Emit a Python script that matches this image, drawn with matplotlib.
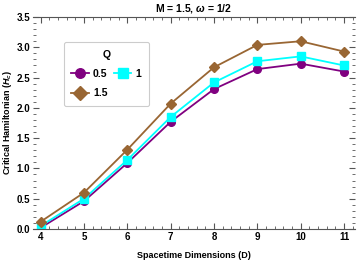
import matplotlib
matplotlib.use("Agg")
import matplotlib.pyplot as plt
from matplotlib.ticker import MultipleLocator

plt.rcParams['font.family'] = ['Liberation Sans', 'DejaVu Sans']
plt.rcParams['font.weight'] = 'bold'
plt.rcParams['mathtext.fontset'] = 'custom'
plt.rcParams['mathtext.it'] = 'Liberation Sans:italic:bold'
plt.rcParams['mathtext.rm'] = 'Liberation Sans:bold'

D = [4, 5, 6, 7, 8, 9, 10, 11]
q_labels = ["0.5", "1", "1.5"]
h_q05 = [0.02, 0.46, 1.09, 1.77, 2.31, 2.64, 2.73, 2.60]
h_q1 = [0.05, 0.50, 1.14, 1.85, 2.42, 2.77, 2.85, 2.70]
h_q15 = [0.12, 0.60, 1.31, 2.07, 2.67, 3.04, 3.10, 2.93]

fig = plt.figure(figsize=(3.57, 2.62), dpi=100)
ax = fig.add_axes([0.092, 0.126, 0.902, 0.809])

l1, = ax.plot(D, h_q05, color='#800080', marker='o', markersize=5.5, lw=1.3, label=q_labels[0])
l2, = ax.plot(D, h_q1, color='#00FFFF', marker='s', markersize=5.5, lw=1.3, label=q_labels[1])
l3, = ax.plot(D, h_q15, color='#996633', marker='D', markersize=5.5, lw=1.3, label=q_labels[2])

ax.set_xlim(3.82, 11.25)
ax.set_ylim(0, 3.5)
ax.xaxis.set_major_locator(MultipleLocator(1))
ax.xaxis.set_minor_locator(MultipleLocator(0.2))
ax.yaxis.set_major_locator(MultipleLocator(0.5))
ax.yaxis.set_minor_locator(MultipleLocator(0.1))
ax.tick_params(which='both', direction='in', top=True, right=True, labelsize=7, color='#555555', pad=2)
ax.tick_params(which='major', length=4, width=0.8)
ax.tick_params(which='minor', length=2, width=0.6)
for lab in ax.get_xticklabels() + ax.get_yticklabels():
    lab.set_fontweight('bold')
ax.spines['left'].set_visible(False)
ax.spines['right'].set_visible(False)
for s in ['top', 'bottom']:
    ax.spines[s].set_color('#555555')
    ax.spines[s].set_linewidth(0.8)

ax.set_title(r'M = 1.5, $\omega$ = 1/2', fontsize=7.5, fontweight='bold', pad=4)
ax.set_xlabel('Spacetime Dimensions (D)', fontsize=6.5, fontweight='bold', labelpad=7)
ax.set_ylabel(r'Critical Hamiltonian ($H_c$)', fontsize=6.5, fontweight='bold', labelpad=2)

leg = ax.legend([l1, l3, l2], [q_labels[0], q_labels[2], q_labels[1]], ncol=2, title='Q',
                loc='upper left', bbox_to_anchor=(0.08, 0.905), fontsize=7.5,
                title_fontproperties={'weight': 'bold', 'size': 7.5},
                frameon=True, fancybox=True, edgecolor='#cccccc', framealpha=1,
                handlelength=1.7, columnspacing=0.6, handletextpad=0.4,
                borderpad=0.7, labelspacing=0.9, markerscale=1.25)
leg.get_frame().set_linewidth(0.8)
for t in leg.get_texts():
    t.set_fontweight('bold')

fig.savefig('out.png', dpi=100)
